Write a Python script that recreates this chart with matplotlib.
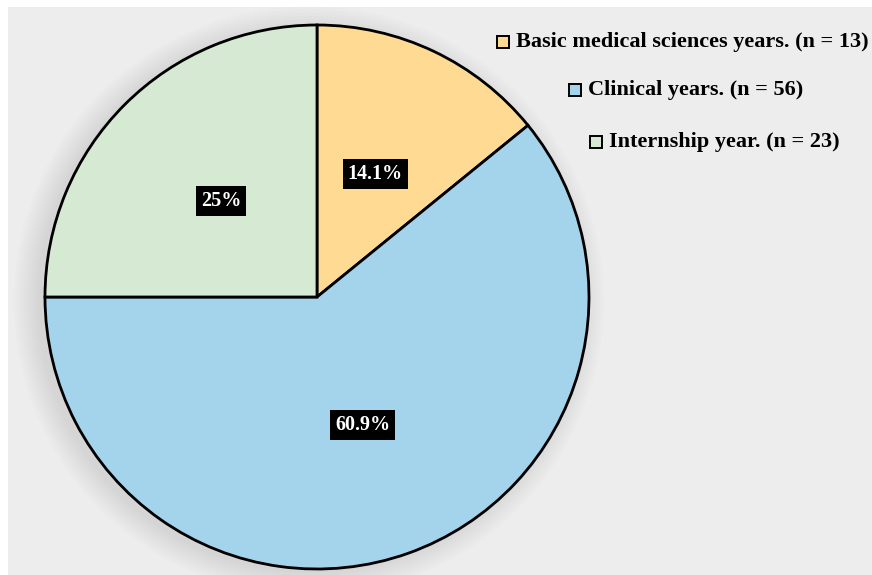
import matplotlib
matplotlib.use("Agg")
import matplotlib.pyplot as plt
from matplotlib.patches import Rectangle, Circle

# student groups and counts
groups = ["Basic medical sciences years.", "Clinical years.", "Internship year."]
counts = [13, 56, 23]
colors = ["#FFDA92", "#A4D3EC", "#D6EAD3"]

plt.rcParams["font.family"] = ["Liberation Serif", "DejaVu Serif"]

fig = plt.figure(figsize=(8.72, 5.75), dpi=100)
fig.patch.set_facecolor("white")

# gray panel behind everything
fig.patches.append(Rectangle((8 / 872, 0), 1 - 8 / 872, 1 - 7 / 575,
                             transform=fig.transFigure, facecolor="#ECEDEC",
                             edgecolor="none", zorder=-5))

ax = fig.add_axes([45 / 872, 6 / 575, 544 / 872, 544 / 575])
ax.set_facecolor("none")

# faint soft shadow under the pie
for k in range(8):
    ax.add_patch(Circle((-0.03, -0.015), 1.0 + 0.012 * k, facecolor="black",
                        edgecolor="none", alpha=0.012, zorder=0, clip_on=False))


def fmt(p):
    s = "%.1f" % p
    if s.endswith(".0"):
        s = s[:-2]
    return s + "%"


wedges, texts, autotexts = ax.pie(
    counts, colors=colors, startangle=90, counterclock=False,
    autopct=fmt, pctdistance=0.5,
    wedgeprops=dict(edgecolor="black", linewidth=2))
for t in autotexts:
    t.set_color("white")
    t.set_fontweight("bold")
    t.set_fontsize(14.5)
    t.set_bbox(dict(facecolor="black", edgecolor="none", boxstyle="square,pad=0.25"))
ax.set_xlim(-1, 1)
ax.set_ylim(-1, 1)
ax.set_aspect("equal")
ax.axis("off")

# legend entries placed by hand
rows = [(497, 42), (569, 90), (590, 142)]
for (x, y), g, n, c in zip(rows, groups, counts, colors):
    fig.patches.append(Rectangle((x / 872, (575 - y - 6) / 575), 12 / 872, 12 / 575,
                                 transform=fig.transFigure, facecolor=c,
                                 edgecolor="black", linewidth=1.4, zorder=3))
    fig.text((x + 19) / 872, (575 - y) / 575, "%s (n = %d)" % (g, n),
             fontsize=16, fontweight="bold", va="center", ha="left")

fig.savefig("out.png", dpi=100)
